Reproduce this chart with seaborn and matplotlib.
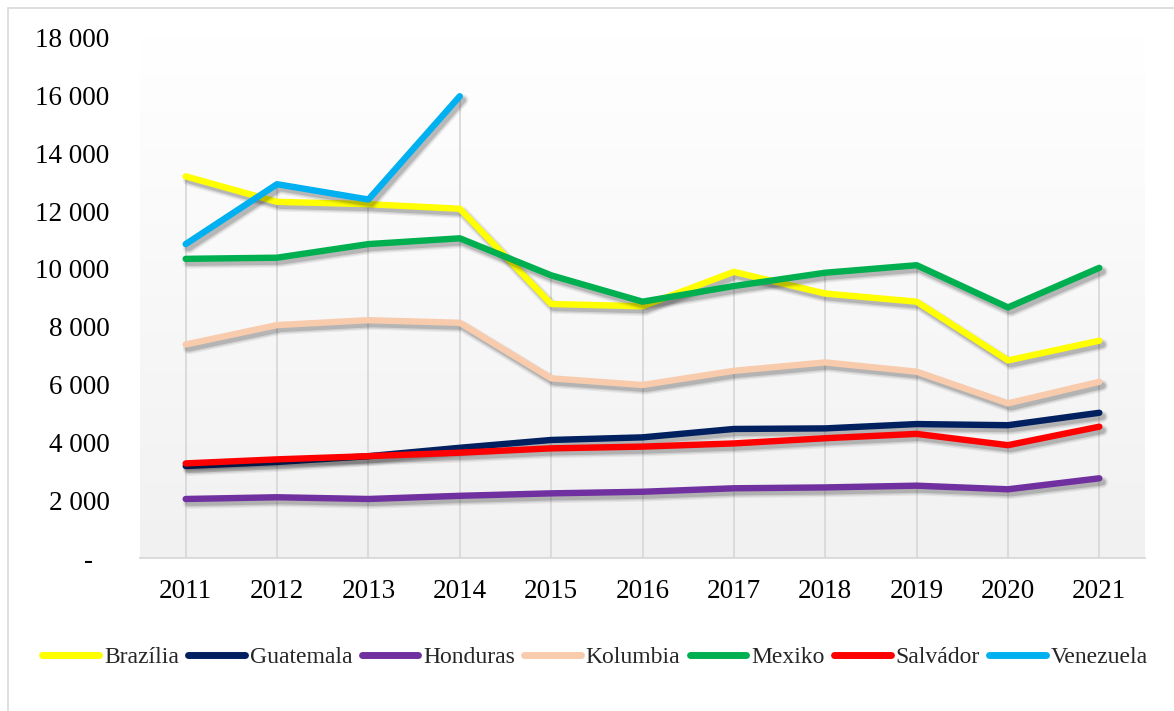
import numpy as np
import pandas as pd
import matplotlib
matplotlib.use("Agg")
import matplotlib.pyplot as plt
import matplotlib.patheffects as pe
from matplotlib.lines import Line2D
from matplotlib.patches import Rectangle
from matplotlib.transforms import ScaledTranslation
import seaborn as sns

years = [2011, 2012, 2013, 2014, 2015, 2016, 2017, 2018, 2019, 2020, 2021]
countries = ["Brazília", "Guatemala", "Honduras", "Kolumbia", "Mexiko", "Salvádor", "Venezuela"]

brazilia = [13200, 12320, 12240, 12080, 8790, 8710, 9900, 9150, 8870, 6840, 7520]
guatemala = [3190, 3330, 3530, 3820, 4090, 4180, 4470, 4490, 4640, 4600, 5030]
honduras = [2050, 2110, 2050, 2160, 2245, 2300, 2420, 2450, 2510, 2385, 2765]
kolumbia = [7390, 8060, 8230, 8140, 6220, 5990, 6480, 6770, 6450, 5355, 6100]
mexiko = [10350, 10390, 10860, 11060, 9780, 8870, 9410, 9870, 10130, 8670, 10040]
salvador = [3280, 3420, 3530, 3650, 3800, 3860, 3970, 4150, 4300, 3910, 4550]
venezuela = [10860, 12930, 12400, 15970, np.nan, np.nan, np.nan, np.nan, np.nan, np.nan, np.nan]

colors = ["#FFFF00", "#002060", "#7030A0", "#F8CBAD", "#00B050", "#FF0000", "#00B0F0"]
yticks = [0, 2000, 4000, 6000, 8000, 10000, 12000, 14000, 16000, 18000]

series = [brazilia, guatemala, honduras, kolumbia, mexiko, salvador, venezuela]
df = pd.DataFrame({
    "year": years * len(countries),
    "country": [c for c in countries for _ in years],
    "value": [v for s in series for v in s],
})

sns.set_theme(style="white")
plt.rcParams["font.family"] = ["Liberation Serif", "DejaVu Serif"]

W, H = 1174, 711
fig = plt.figure(figsize=(W / 100, H / 100), dpi=100)
fig.patch.set_facecolor("white")

# outer chart border
fig.patches.append(Rectangle((8 / W, -0.1), 1.2, (H - 8) / H + 0.1, transform=fig.transFigure,
                             fill=False, edgecolor="#d9d9d9", linewidth=1.2))

left, right, bottom, top = 140, 1145, 558.3, 37.5
ax = fig.add_axes([left / W, (H - bottom) / H, (right - left) / W, (bottom - top) / H])
ax.set_facecolor("white")

# vertical gradient fill of the plot area
grad = np.linspace(0.945, 1.0, 256).reshape(-1, 1)
ax.imshow(np.dstack([grad, grad, grad]), extent=[0, 1, 0, 1], transform=ax.transAxes,
          aspect="auto", origin="lower", zorder=0, interpolation="bilinear")

# drop lines from the highest value of each year
tops = df.groupby("year")["value"].max()
ax.vlines(tops.index, 0, tops.values, color="#d9d9d9", linewidth=1.3, zorder=1)

sns.lineplot(data=df, x="year", y="value", hue="country", hue_order=countries,
             palette=colors, linewidth=4.6, ax=ax, legend=False, sort=False, zorder=3)

# soft drop shadow under each line
shadow = [
    pe.SimpleLineShadow(offset=(2.2, -2.8), shadow_color="#000000", alpha=0.06, linewidth=8.5),
    pe.SimpleLineShadow(offset=(2.2, -2.8), shadow_color="#000000", alpha=0.09, linewidth=6.5),
    pe.SimpleLineShadow(offset=(2.2, -2.8), shadow_color="#000000", alpha=0.14, linewidth=4.6),
    pe.Normal(),
]
for ln in ax.lines:
    ln.set_solid_capstyle("round")
    ln.set_solid_joinstyle("round")
    ln.set_path_effects(shadow)

ax.set_xlim(2010.5, 2021.5)
ax.set_ylim(0, 18000)
ax.set_xticks(years)
ax.set_xticklabels([str(y) for y in years])
ax.set_yticks(yticks)
ax.set_yticklabels(["-" if v == 0 else f"{v:,}".replace(",", " ") for v in yticks])
ax.set_xlabel("")
ax.set_ylabel("")
ax.tick_params(axis="both", length=0, labelsize=19.5, colors="black")
ax.tick_params(axis="y", pad=22)
ax.tick_params(axis="x", pad=15)
for s in ["left", "right", "top"]:
    ax.spines[s].set_visible(False)
ax.spines["bottom"].set_color("#d9d9d9")
ax.spines["bottom"].set_linewidth(1.3)
ax.grid(False)

lab0 = ax.get_yticklabels()[0]
lab0.set_transform(lab0.get_transform() + ScaledTranslation(-16 / 100, 0, fig.dpi_scale_trans))

handles = [Line2D([], [], color=c, linewidth=5, solid_capstyle="round") for c in colors]
fig.legend(handles, countries, loc="center", bbox_to_anchor=(595 / W, (H - 657) / H),
           ncol=7, frameon=False, fontsize=17, handlelength=2.4, handletextpad=0.2,
           columnspacing=0.4, borderaxespad=0)

fig.savefig("out.png", dpi=100)
